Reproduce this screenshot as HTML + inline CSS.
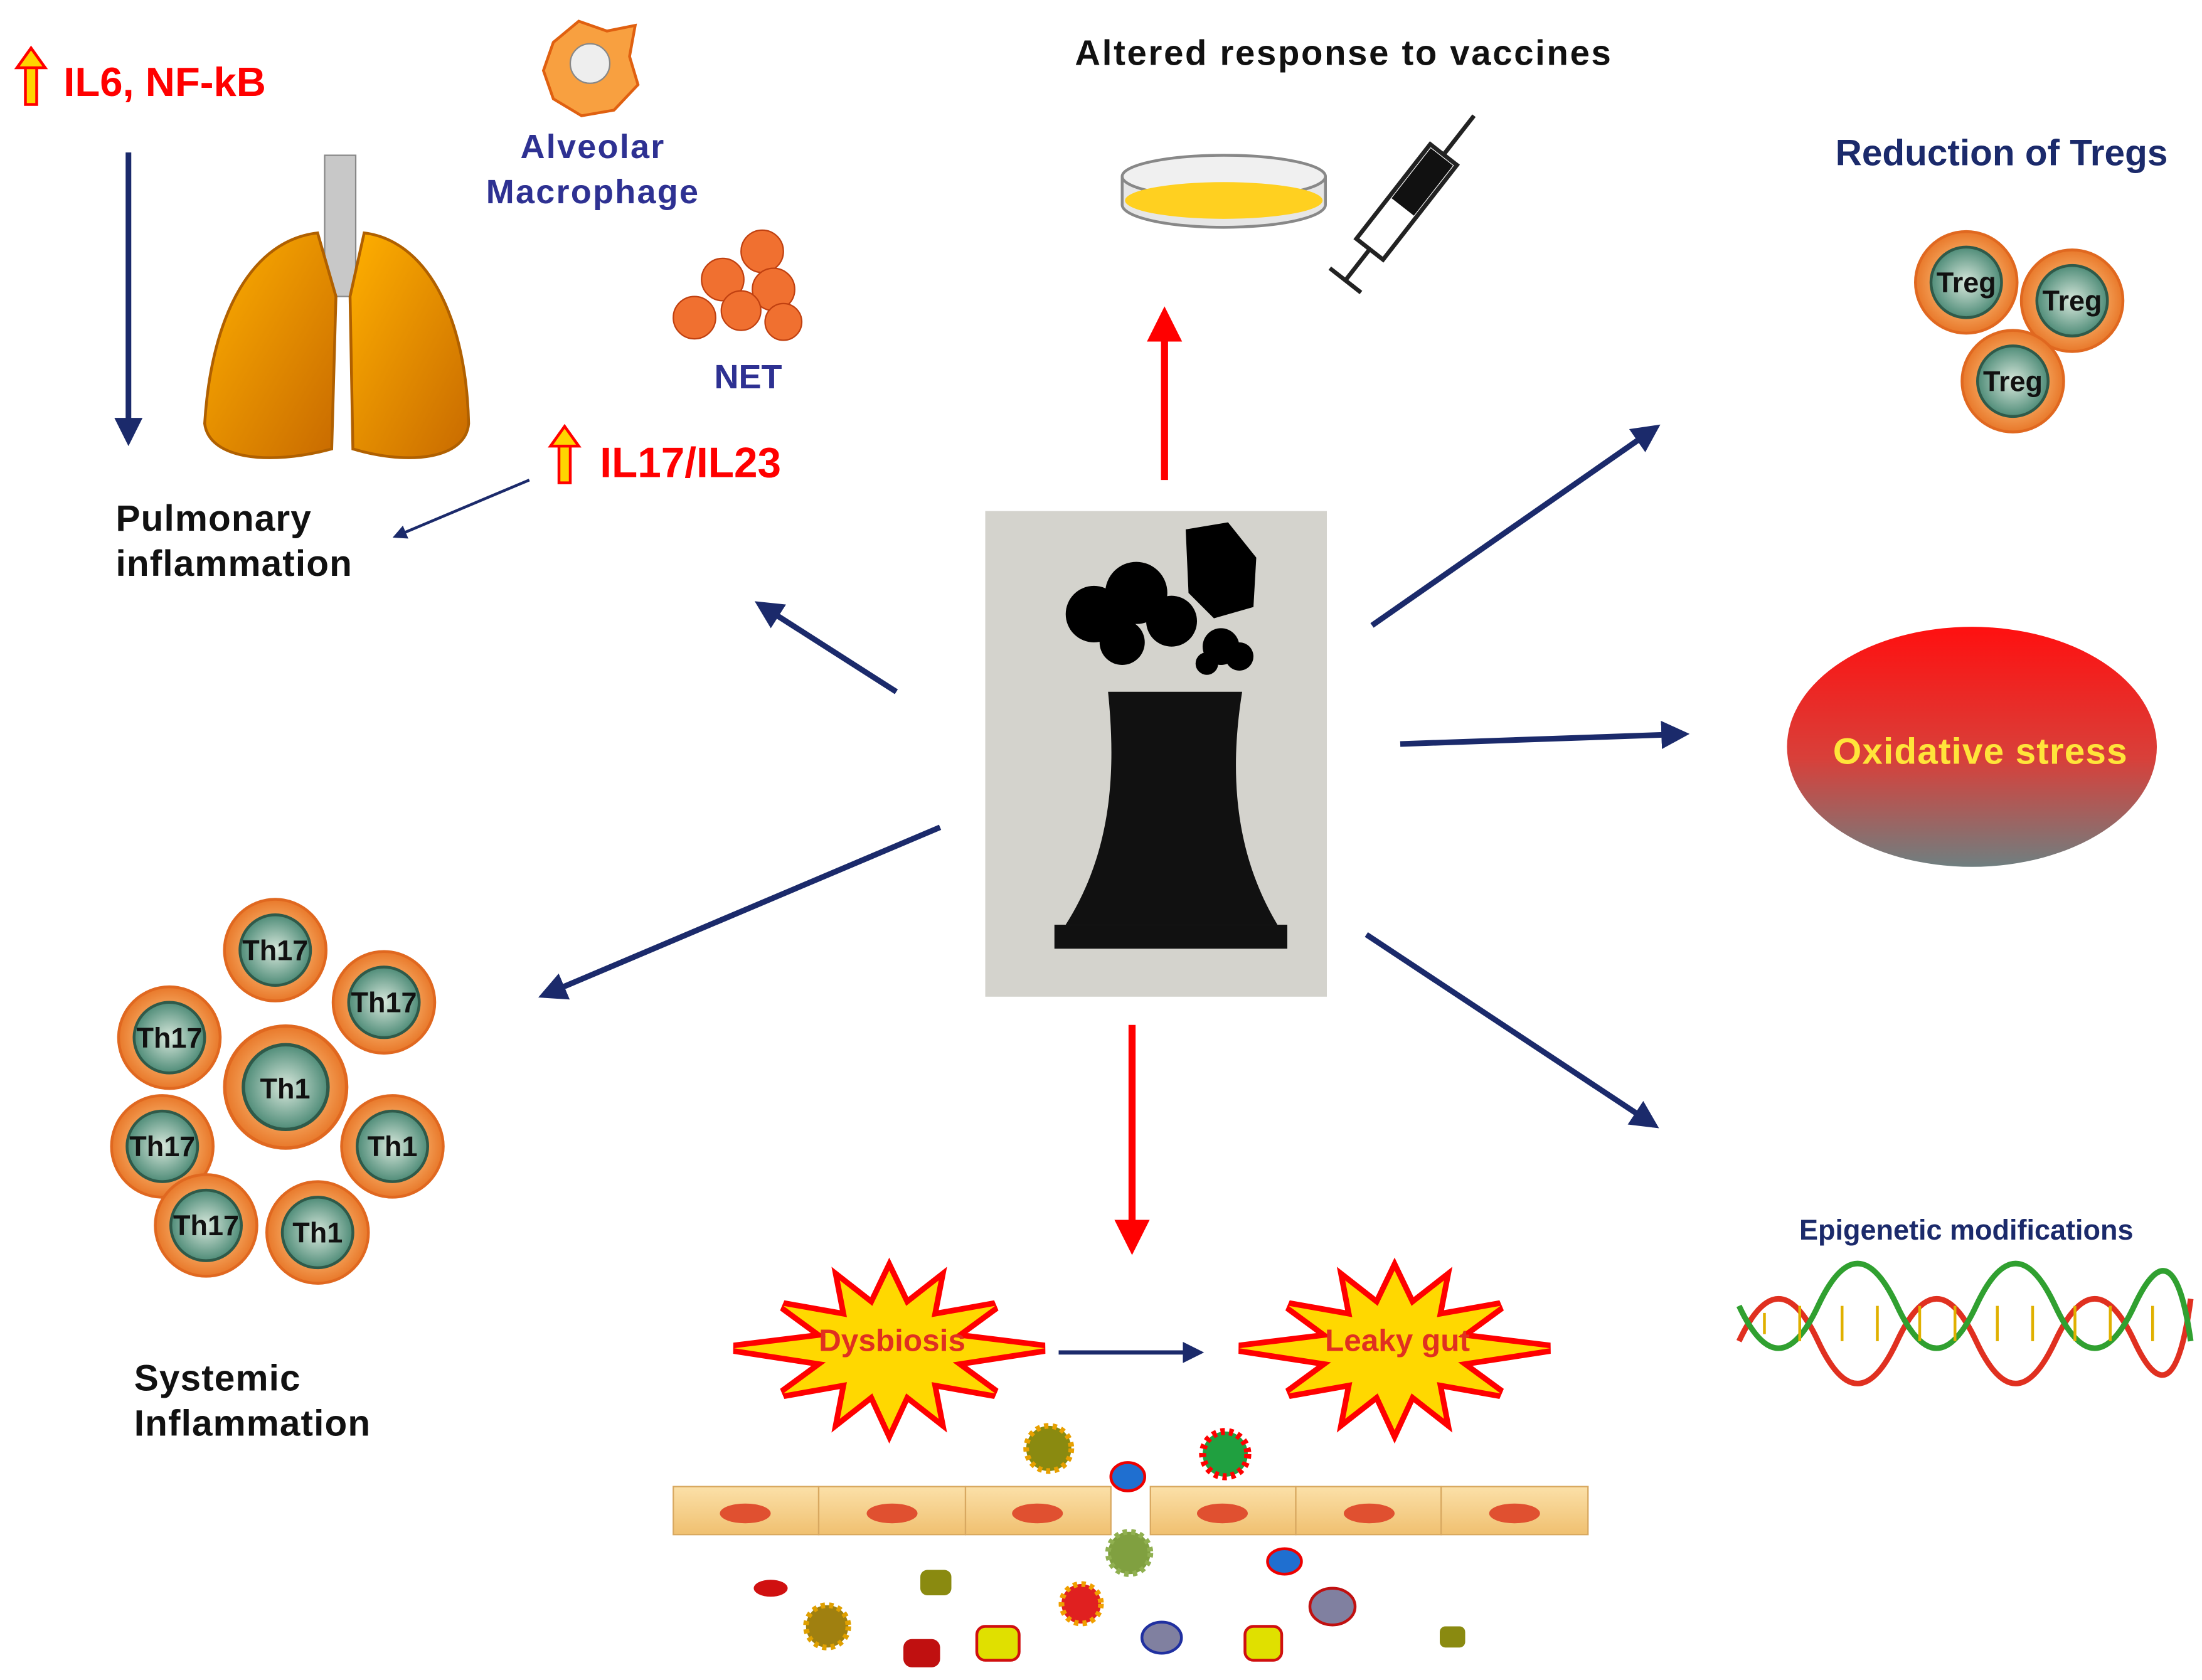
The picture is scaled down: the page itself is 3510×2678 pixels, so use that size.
<!DOCTYPE html>
<html><head><meta charset="utf-8"><style>
html,body{margin:0;padding:0;background:#fff;width:3510px;height:2678px;overflow:hidden}
svg{display:block}
text{font-family:"Liberation Sans",Arial,sans-serif;font-weight:bold}
</style></head><body>
<svg width="3510" height="2678" viewBox="0 0 1560 1190" preserveAspectRatio="none" xmlns="http://www.w3.org/2000/svg">
<defs>
<marker id="ah" markerWidth="5" markerHeight="5" refX="4" refY="2.5" orient="auto" markerUnits="strokeWidth"><path d="M0,0 L5,2.5 L0,5 z" fill="#1b2a6b"/></marker>
<marker id="ahr" markerWidth="5" markerHeight="5" refX="4" refY="2.5" orient="auto" markerUnits="strokeWidth"><path d="M0,0 L5,2.5 L0,5 z" fill="#f00"/></marker>
<linearGradient id="ox" x1="0" y1="0" x2="0" y2="1"><stop offset="0" stop-color="#ff1010"/><stop offset="0.55" stop-color="#d8403a"/><stop offset="1" stop-color="#6f7f80"/></linearGradient>
<radialGradient id="cell" cx="0.5" cy="0.5" r="0.5"><stop offset="0.55" stop-color="#f6a860"/><stop offset="1" stop-color="#e8782a"/></radialGradient>
<radialGradient id="nuc" cx="0.5" cy="0.5" r="0.5"><stop offset="0" stop-color="#d8e8dc"/><stop offset="1" stop-color="#4f8c78"/></radialGradient>
<linearGradient id="lung" x1="0" y1="0" x2="1" y2="1"><stop offset="0" stop-color="#ffb000"/><stop offset="1" stop-color="#c86a00"/></linearGradient>
<linearGradient id="epi" x1="0" y1="0" x2="0" y2="1"><stop offset="0" stop-color="#fbe0a8"/><stop offset="1" stop-color="#f0c070"/></linearGradient>
<g id="up"><rect x="-4" y="-12" width="8" height="28" fill="#ffd400" stroke="#f00" stroke-width="2"/><path d="M-10,-10 L0,-24 L10,-10 z" fill="#ffd400" stroke="#f00" stroke-width="2"/></g>
<g id="c"><circle r="36" fill="url(#cell)" stroke="#e06820" stroke-width="2"/><circle r="25" fill="url(#nuc)" stroke="#2f5a4a" stroke-width="2"/></g>
<path id="star" d="M0,-55 L12,-30 L35,-48 L30,-22 L75,-30 L45,-8 L110,0 L45,10 L75,32 L30,24 L35,50 L12,32 L0,58 L-12,32 L-35,50 L-30,24 L-75,32 L-45,10 L-110,0 L-45,-8 L-75,-30 L-30,-22 L-35,-48 L-12,-30 z"/>
</defs>

<use href="#up" x="22" y="58"/>
<text x="45" y="68" font-size="29" fill="#f00">IL6, NF-kB</text>
<line x1="91" y1="108" x2="91" y2="312" stroke="#1b2a6b" stroke-width="4" marker-end="url(#ah)"/>
<rect x="230" y="110" width="22" height="100" fill="#c8c8c8" stroke="#888"/>
<path d="M225,165 C180,170 150,220 145,300 C148,325 190,330 235,318 L238,210 z" fill="url(#lung)" stroke="#b06000" stroke-width="2"/>
<path d="M258,165 C300,170 330,220 332,300 C330,325 290,330 250,318 L248,210 z" fill="url(#lung)" stroke="#b06000" stroke-width="2"/>
<path d="M392,30 L410,15 L430,22 L450,18 L446,40 L452,60 L435,78 L412,82 L392,70 L385,50 z" fill="#f8a040" stroke="#e06010" stroke-width="2"/>
<circle cx="418" cy="45" r="14" fill="#eee" stroke="#888"/>
<text x="420" y="112" font-size="24" fill="#2e3192" text-anchor="middle" letter-spacing="1">Alveolar</text>
<text x="420" y="144" font-size="24" fill="#2e3192" text-anchor="middle" letter-spacing="1">Macrophage</text>
<g fill="#f07030" stroke="#c04010">
<circle cx="540" cy="178" r="15"/><circle cx="512" cy="198" r="15"/><circle cx="548" cy="205" r="15"/><circle cx="492" cy="225" r="15"/><circle cx="525" cy="220" r="14"/><circle cx="555" cy="228" r="13"/></g>
<text x="530" y="275" font-size="24" fill="#2e3192" text-anchor="middle">NET</text>
<use href="#up" x="400" y="326"/>
<text x="425" y="338" font-size="30" fill="#f00">IL17/IL23</text>
<line x1="375" y1="340" x2="280" y2="380" stroke="#1b2a6b" stroke-width="2" marker-end="url(#ah)"/>
<text x="82" y="376" font-size="26" fill="#111" letter-spacing="0.5">Pulmonary</text>
<text x="82" y="408" font-size="26" fill="#111" letter-spacing="0.5">inflammation</text>

<text x="952" y="46" font-size="25" fill="#111" text-anchor="middle" letter-spacing="1.2">Altered response to vaccines</text>
<path d="M795,125 L795,145 A72,16 0 0 0 939,145 L939,125" fill="#e6e6e6" stroke="#888" stroke-width="2"/>
<ellipse cx="867" cy="125" rx="72" ry="15" fill="#f0f0f0" stroke="#888" stroke-width="2"/>
<ellipse cx="867" cy="142" rx="70" ry="13" fill="#ffd020"/>
<g transform="translate(995,145) rotate(38)">
<rect x="-12" y="-45" width="24" height="85" fill="#fff" stroke="#222" stroke-width="3"/>
<rect x="-10" y="-43" width="20" height="45" fill="#111"/>
<line x1="0" y1="-45" x2="0" y2="-80" stroke="#222" stroke-width="3"/>
<line x1="0" y1="40" x2="0" y2="68" stroke="#222" stroke-width="3"/>
<line x1="-14" y1="68" x2="14" y2="68" stroke="#222" stroke-width="3"/>
</g>
<line x1="825" y1="340" x2="825" y2="222" stroke="#f00" stroke-width="5" marker-end="url(#ahr)"/>

<rect x="698" y="362" width="242" height="344" fill="#d4d3cd"/>
<path d="M785,490 L880,490 C872,540 872,600 905,655 L755,655 C790,600 790,540 785,490 z" fill="#111"/>
<rect x="747" y="655" width="165" height="17" fill="#111"/>
<g fill="#000"><circle cx="775" cy="435" r="20"/><circle cx="805" cy="420" r="22"/><circle cx="830" cy="440" r="18"/><circle cx="795" cy="455" r="16"/>
<path d="M840,375 L870,370 L890,395 L888,430 L860,438 L842,420 z"/>
<circle cx="865" cy="458" r="13"/><circle cx="878" cy="465" r="10"/><circle cx="855" cy="470" r="8"/></g>

<g stroke="#1b2a6b" stroke-width="4">
<line x1="635" y1="490" x2="538" y2="428" marker-end="url(#ah)"/>
<line x1="972" y1="443" x2="1173" y2="303" marker-end="url(#ah)"/>
<line x1="992" y1="527" x2="1193" y2="520" marker-end="url(#ah)"/>
<line x1="968" y1="662" x2="1172" y2="797" marker-end="url(#ah)"/>
<line x1="666" y1="586" x2="385" y2="705" marker-end="url(#ah)"/>
<line x1="750" y1="958" x2="850" y2="958" stroke-width="3" marker-end="url(#ah)"/>
</g>
<line x1="802" y1="726" x2="802" y2="884" stroke="#f00" stroke-width="5" marker-end="url(#ahr)"/>

<text x="1418" y="117" font-size="26" fill="#1b2a6b" text-anchor="middle">Reduction of Tregs</text>
<g font-size="20" fill="#111" text-anchor="middle">
<use href="#c" x="1393" y="200"/><text x="1393" y="207">Treg</text>
<use href="#c" x="1468" y="213"/><text x="1468" y="220">Treg</text>
<use href="#c" x="1426" y="270"/><text x="1426" y="277">Treg</text>
</g>
<ellipse cx="1397" cy="529" rx="131" ry="85" fill="url(#ox)"/>
<text x="1403" y="541" font-size="26" fill="#ffe43a" text-anchor="middle" letter-spacing="0.5">Oxidative stress</text>
<text x="1393" y="878" font-size="20" fill="#1b2a6b" text-anchor="middle">Epigenetic  modifications</text>
<path d="M1232,950 Q1260,890 1288,950 T1344,950 T1400,950 T1456,950 T1512,950 T1552,920" fill="none" stroke="#e03020" stroke-width="4"/>
<path d="M1232,925 Q1260,985 1288,925 T1344,925 T1400,925 T1456,925 T1512,925 T1552,950" fill="none" stroke="#30a030" stroke-width="4"/>
<g stroke="#e0b000" stroke-width="2">
<line x1="1250" y1="930" x2="1250" y2="945"/><line x1="1275" y1="925" x2="1275" y2="950"/><line x1="1305" y1="925" x2="1305" y2="950"/><line x1="1330" y1="925" x2="1330" y2="950"/><line x1="1360" y1="925" x2="1360" y2="950"/><line x1="1385" y1="925" x2="1385" y2="950"/><line x1="1415" y1="925" x2="1415" y2="950"/><line x1="1440" y1="925" x2="1440" y2="950"/><line x1="1470" y1="925" x2="1470" y2="950"/><line x1="1495" y1="925" x2="1495" y2="950"/><line x1="1525" y1="925" x2="1525" y2="950"/></g>

<g font-size="20" fill="#111" text-anchor="middle">
<use href="#c" x="195" y="673"/><text x="195" y="680">Th17</text>
<use href="#c" x="272" y="710"/><text x="272" y="717">Th17</text>
<use href="#c" x="120" y="735"/><text x="120" y="742">Th17</text>
<use href="#c" x="202" y="770" transform="translate(-40,-154) scale(1.2)"/><text x="202" y="778">Th1</text>
<use href="#c" x="115" y="812"/><text x="115" y="819">Th17</text>
<use href="#c" x="278" y="812"/><text x="278" y="819">Th1</text>
<use href="#c" x="146" y="868"/><text x="146" y="875">Th17</text>
<use href="#c" x="225" y="873"/><text x="225" y="880">Th1</text>
</g>
<text x="95" y="985" font-size="26" fill="#111" letter-spacing="0.5">Systemic</text>
<text x="95" y="1017" font-size="26" fill="#111" letter-spacing="0.5">Inflammation</text>

<use href="#star" x="630" y="955" fill="#ffe000" stroke="#f00" stroke-width="8"/>
<use href="#star" x="630" y="955" fill="#ffd800"/>
<text x="632" y="957" font-size="22" fill="#e03020" text-anchor="middle">Dysbiosis</text>
<use href="#star" x="988" y="955" fill="#ffe000" stroke="#f00" stroke-width="8"/>
<use href="#star" x="988" y="955" fill="#ffd800"/>
<text x="990" y="957" font-size="22" fill="#e03020" text-anchor="middle">Leaky gut</text>
<g fill="url(#epi)" stroke="#d8a860">
<rect x="477" y="1053" width="103" height="34"/><rect x="580" y="1053" width="104" height="34"/><rect x="684" y="1053" width="103" height="34"/>
<rect x="815" y="1053" width="103" height="34"/><rect x="918" y="1053" width="103" height="34"/><rect x="1021" y="1053" width="104" height="34"/></g>
<g fill="#e05030"><ellipse cx="528" cy="1072" rx="18" ry="7"/><ellipse cx="632" cy="1072" rx="18" ry="7"/><ellipse cx="735" cy="1072" rx="18" ry="7"/><ellipse cx="866" cy="1072" rx="18" ry="7"/><ellipse cx="970" cy="1072" rx="18" ry="7"/><ellipse cx="1073" cy="1072" rx="18" ry="7"/></g>
<circle cx="743" cy="1026" r="16" fill="#8a8a10" stroke="#e8a000" stroke-width="4" stroke-dasharray="3 3"/>
<ellipse cx="799" cy="1046" rx="12" ry="10" fill="#1f6fd0" stroke="#e00" stroke-width="2"/>
<circle cx="868" cy="1030" r="16" fill="#20a040" stroke="#f00" stroke-width="5" stroke-dasharray="3 3"/>
<circle cx="800" cy="1100" r="15" fill="#80a040" stroke="#90b050" stroke-width="4" stroke-dasharray="3 3"/>
<ellipse cx="910" cy="1106" rx="12" ry="9" fill="#1f6fd0" stroke="#e00" stroke-width="2"/>
<ellipse cx="546" cy="1125" rx="12" ry="6" fill="#d01010"/>
<rect x="652" y="1112" width="22" height="18" rx="5" fill="#8a8a10"/>
<circle cx="766" cy="1136" r="14" fill="#e02020" stroke="#f0a000" stroke-width="4" stroke-dasharray="3 3"/>
<ellipse cx="944" cy="1138" rx="16" ry="13" fill="#8080a0" stroke="#c01010" stroke-width="2"/>
<circle cx="586" cy="1152" r="15" fill="#a08010" stroke="#e0a000" stroke-width="4" stroke-dasharray="3 3"/>
<rect x="640" y="1161" width="26" height="20" rx="6" fill="#c01010"/>
<rect x="692" y="1152" width="30" height="24" rx="6" fill="#e0e000" stroke="#d01010" stroke-width="2"/>
<ellipse cx="823" cy="1160" rx="14" ry="11" fill="#8080a0" stroke="#2030a0" stroke-width="2"/>
<rect x="882" y="1152" width="26" height="24" rx="6" fill="#e0e000" stroke="#d01010" stroke-width="2"/>
<rect x="1020" y="1152" width="18" height="15" rx="4" fill="#8a8a10"/>
</svg>
</body></html>
